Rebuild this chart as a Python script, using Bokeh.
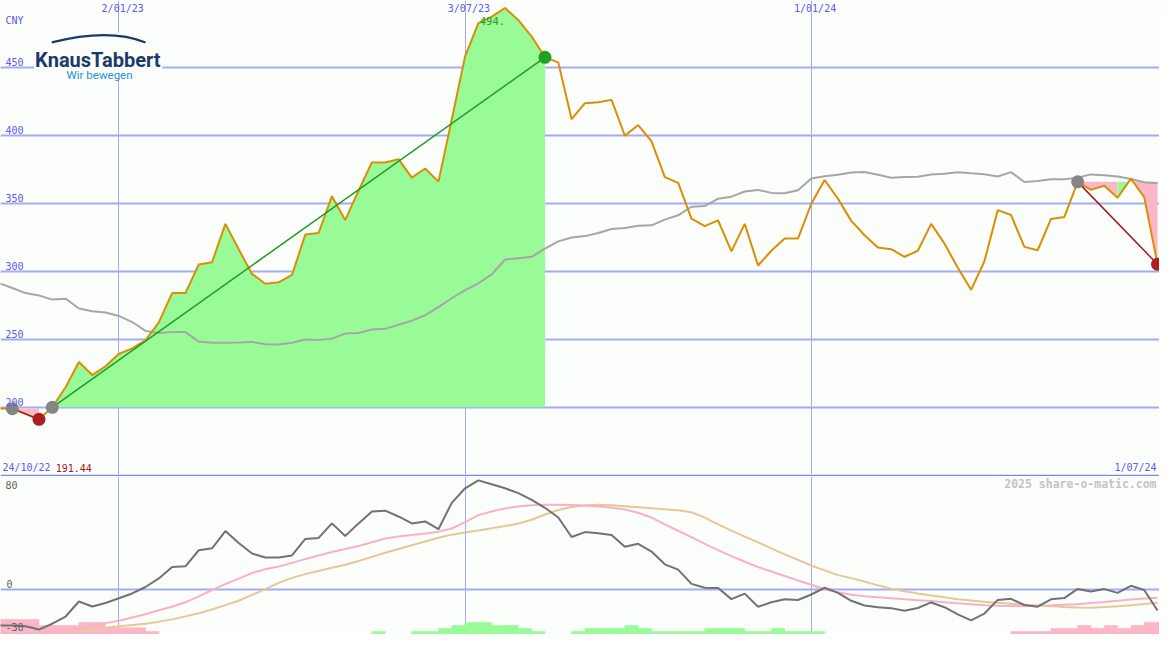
import pandas as pd
from bokeh.plotting import figure
from bokeh.layouts import column
from bokeh.models import Range1d, FixedTicker
from bokeh.core.properties import value
from bokeh.embed import file_html
from bokeh.resources import INLINE

# ---------------- data ----------------
week_start = "2022-10-31"
week_end = "2024-07-01"

price = [199.5, 199.3, 195.5, 191.44, 200.3, 215.0, 233.6, 224.0, 230.5, 239.6,
         243.6, 249.6, 262.7, 284.3, 284.3, 305.3, 307.0, 335.2, 316.5, 298.4,
         291.2, 292.2, 297.6, 327.3, 328.5, 355.6, 338.0, 359.6, 380.4, 380.4,
         382.8, 369.2, 375.9, 366.3, 412.0, 458.4, 482.8, 487.6, 494.0, 485.0,
         473.0, 457.7, 454.0, 412.2, 424.0, 424.7, 426.4, 400.0, 407.9, 395.9,
         369.6, 365.3, 339.0, 333.5, 337.8, 315.0, 335.2, 304.6, 315.4, 324.4,
         324.4, 350.0, 367.5, 353.7, 337.4, 326.8, 317.8, 316.6, 311.0, 315.4,
         335.2, 320.7, 303.0, 286.7, 307.7, 345.3, 341.7, 318.3, 315.8, 338.8,
         340.2, 366.1, 360.2, 363.3, 354.4, 368.5, 354.9, 305.5]

moving_avg = [291.6, 288.0, 284.3, 282.6, 279.5, 280.2, 273.0, 271.0, 270.0, 267.5,
              263.0, 256.5, 255.0, 255.6, 255.6, 248.6, 247.7, 247.8, 248.0, 248.4,
              246.6, 246.5, 247.8, 250.2, 249.8, 250.8, 254.5, 254.9, 257.5, 258.0,
              261.0, 264.0, 268.0, 274.0, 280.5, 286.5, 291.5, 298.0, 309.0, 310.0,
              311.0, 317.0, 322.3, 325.2, 326.2, 328.5, 331.4, 332.2, 333.9, 334.1,
              338.3, 341.5, 347.8, 348.3, 353.7, 355.2, 359.0, 360.2, 358.0, 357.7,
              360.0, 368.5, 370.3, 371.4, 373.0, 373.4, 371.4, 369.2, 369.7, 369.9,
              371.5, 372.1, 373.2, 372.4, 371.7, 370.0, 373.3, 366.0, 366.7, 368.0,
              368.0, 369.2, 371.6, 371.0, 370.0, 368.2, 365.8, 365.0]

oscillator = [-24.0, -24.0, -24.5, -26.7, -22.8, -18.0, -8.0, -11.3, -9.0, -5.8,
              -2.6, 1.7, 7.4, 15.0, 15.5, 26.2, 27.5, 39.0, 31.0, 24.0,
              21.4, 21.4, 22.7, 33.7, 34.4, 44.1, 35.7, 44.1, 52.0, 52.6,
              48.7, 44.1, 45.4, 40.2, 57.8, 67.5, 72.8, 70.2, 67.5, 64.3,
              59.8, 54.5, 48.0, 35.0, 38.3, 37.6, 36.3, 28.5, 30.5, 25.3,
              16.8, 13.3, 3.8, 1.2, 1.0, -6.4, -2.7, -11.5, -8.5, -6.5,
              -7.0, -3.3, 1.2, -2.2, -7.5, -10.6, -11.8, -12.4, -14.1, -12.3,
              -8.6, -11.8, -16.5, -20.5, -16.0, -6.9, -6.2, -10.3, -11.4, -6.5,
              -5.7, 0.4, -1.3, 0.3, -2.2, 2.5, -0.3, -14.0]

signal_fast = [-30.0, -30.0, -29.5, -29.0, -28.0, -27.0, -25.5, -24.0, -22.4, -20.8,
               -18.6, -16.5, -13.8, -11.5, -8.5, -4.5, -0.3, 3.6, 7.3, 11.0,
               13.5, 15.3, 17.8, 20.3, 22.7, 25.0, 27.0, 29.0, 31.5, 34.0,
               35.3, 36.3, 37.3, 38.6, 40.7, 45.0, 49.6, 52.0, 54.0, 55.3,
               56.2, 56.5, 56.5, 56.4, 56.0, 55.4, 54.5, 53.3, 51.2, 48.0,
               43.5, 39.2, 35.0, 30.5, 26.3, 22.3, 18.5, 15.0, 12.0, 9.0,
               6.0, 3.2, 0.2, -1.8, -3.5, -4.5, -5.2, -5.8, -6.5, -7.1,
               -7.7, -8.5, -9.2, -9.8, -10.4, -10.8, -11.0, -11.1, -10.6, -10.4,
               -10.1, -9.8, -9.0, -8.3, -7.5, -6.6, -5.9, -5.5]

signal_slow = [-31.0, -30.3, -29.5, -28.8, -28.1, -27.4, -26.7, -26.0, -25.4, -24.5,
               -23.7, -22.8, -21.4, -19.9, -17.9, -15.8, -13.3, -10.4, -7.5, -3.6,
               0.3, 4.4, 7.8, 10.3, 12.4, 14.5, 16.5, 19.0, 21.8, 24.5,
               27.0, 29.5, 32.0, 34.5, 36.6, 38.0, 39.4, 40.8, 42.3, 44.0,
               46.5, 50.0, 53.0, 55.0, 56.1, 56.5, 56.2, 55.6, 54.9, 54.2,
               53.6, 52.8, 51.5, 48.0, 43.5, 39.3, 35.3, 31.5, 27.5, 23.5,
               19.8, 16.0, 12.8, 9.6, 7.6, 5.3, 2.8, 0.5, -1.2, -2.6,
               -3.9, -5.2, -6.4, -7.3, -8.2, -8.8, -9.5, -10.2, -10.7, -11.1,
               -11.6, -12.0, -12.1, -11.7, -11.1, -10.4, -9.6, -8.8]

histogram = [-10, -10, -10, -6, -6, -6, -8, -8, -4.5, -4.5,
             -4.5, -2, 0, 0, 0, 0, 0, 0, 0, 0,
             0, 0, 0, 0, 0, 0, 0, 0, 2, 0,
             0, 2, 2, 4, 6, 8, 8, 6, 6, 4,
             2, 0, 0, 2, 4, 4, 4, 6, 4, 2,
             2, 2, 2, 4, 4, 4, 2, 2, 4, 2,
             2, 2, 0, 0, 0, 0, 0, 0, 0, 0,
             0, 0, 0, 0, 0, 0, -2, -2, -2, -4,
             -4, -6, -4, -6, -4, -6, -8, -8]

# trend periods (start index, end index) into the weekly series
periods = [(1, 3), (4, 41), (81, 87)]

main_ticks = [200, 250, 300, 350, 400, 450]
date_ticks = ["2023-01-02", "2023-07-03", "2024-01-01"]
date_tick_labels = ["2/01/23", "3/07/23", "1/01/24"]
lower_tick_labels = ["80", "0", "-30"]
currency = "CNY"
start_label = "24/10/22"
low_label = "191.44"
end_label = "1/07/24"
credit = "2025 share-o-matic.com"
brand = "KnausTabbert"
slogan = "Wir bewegen"

# ---------------- helpers ----------------
DAY = 86400000.0


def ms(d):
    return pd.Timestamp(d).value / 1e6


dates = pd.date_range(week_start, week_end, freq="7D")
xs = [ms(d) for d in dates]

# reference layout geometry (pixel -> data) used only for placing decorations/labels
REF_MS = ms("2023-01-02")
PX_PER_DAY = 13.5 / 7.0


def X(px):
    return REF_MS + (px - 120.0) / PX_PER_DAY * DAY


def Y(py):
    return 450.0 - (py - 69.0) / 1.394


def YL(py):
    return (603.9 - py) / 1.538


BG = "#fcfefc"
GRID = "#a3abf3"
BLUE = "#5a5af0"
ORANGE = "#d98e04"
GREEN_FILL = "#98fb98"
PINK_FILL = "#fbb6c8"
MONO = value("DejaVu Sans Mono")

W = 1159
H_MAIN = 476
H_LOW = 158

x_range = Range1d(X(0), X(1175))

# ---------------- main panel ----------------
p = figure(width=W, height=H_MAIN, x_axis_type="datetime",
           x_range=x_range, y_range=Range1d(Y(486), Y(0)),
           x_axis_location=None, y_axis_location=None,
           output_backend="svg", toolbar_location=None,
           min_border=0, min_border_bottom=2,
           border_fill_color="#7c86ee", background_fill_color=BG,
           outline_line_color=None)
p.ygrid.ticker = FixedTicker(ticks=main_ticks)
p.ygrid.grid_line_color = GRID
p.ygrid.grid_line_width = 2
p.xgrid.ticker = FixedTicker(ticks=[ms(d) for d in date_ticks])
p.xgrid.grid_line_color = GRID
p.xgrid.grid_line_width = 1

# fills between period start level and price, merged into runs of one colour
fx, fy, fc = [], [], []
for i0, i1 in periods:
    base = price[i0]

    def col(k):
        return GREEN_FILL if price[k] >= base else PINK_FILL

    i = i0
    while i < i1:
        c = col(i + 1)
        j = i + 1
        while j < i1 and col(j + 1) == c:
            j += 1
        fx.append([xs[i]] + xs[i:j + 1] + [xs[j]])
        fy.append([base] + price[i:j + 1] + [base])
        fc.append(c)
        i = j
p.patches(fx, fy, fill_color=fc, line_color=None)

p.line(xs, moving_avg, line_color="#a6a6a6", line_width=2)
p.line(xs, price, line_color=ORANGE, line_width=2)

# trend segments and markers
sx0 = [xs[a] for a, b in periods]
sy0 = [price[a] for a, b in periods]
sx1 = [xs[b] for a, b in periods]
sy1 = [price[b] for a, b in periods]
up = [price[b] >= price[a] for a, b in periods]
p.segment(sx0, sy0, sx1, sy1,
          line_color=["#1f9a1f" if u else "#a01c1c" for u in up], line_width=1.5)
p.scatter(sx0, sy0, size=13, fill_color="#858585", line_color=None)
p.scatter(sx1, sy1, size=13,
          fill_color=["#23a023" if u else "#ad1f1f" for u in up], line_color=None)

# peak label
imax = price.index(max(price))
p.text([xs[imax]], [Y(21.5)], text=[f"{max(price):.0f}."], text_font=MONO,
       text_font_size="10.5px", text_color="#23a023", text_align="right",
       text_baseline="middle")

# axis labels
p.text([X(5)] * len(main_ticks), [t + 5.5 / 1.394 for t in main_ticks],
       text=[str(t) for t in main_ticks], text_font=MONO, text_font_size="10px",
       text_color=BLUE, text_baseline="middle")
p.text([X(5)], [Y(21)], text=[currency], text_font=MONO, text_font_size="10px",
       text_color=BLUE, text_baseline="middle")
p.text([ms(d) + 2 * DAY for d in date_ticks], [Y(8.5)] * len(date_ticks),
       text=date_tick_labels, text_font=MONO, text_font_size="10px",
       text_color=BLUE, text_align="center", text_baseline="middle")
p.text([X(2)], [Y(479)], text=[start_label], text_font=MONO, text_font_size="10px",
       text_color=BLUE, text_baseline="middle")
p.text([X(56)], [Y(479)], text=[low_label], text_font=MONO, text_font_size="10px",
       text_color="#a01c1c", text_baseline="middle")
p.text([X(1172)], [Y(479)], text=[end_label], text_font=MONO, text_font_size="10px",
       text_color=BLUE, text_align="right", text_baseline="middle")

# logo
p.quad(left=[X(34)], right=[X(164)], top=[Y(33)], bottom=[Y(80)],
       fill_color=BG, line_color=None)
p.quadratic(x0=[X(52)], y0=[Y(43)], x1=[X(147)], y1=[Y(43)],
            cx=[X(110)], cy=[Y(28)], line_color="#1b3a6b", line_width=2.2)
p.text([X(35)], [Y(61)], text=[brand], text_font=value("Roboto"),
       text_font_style="bold", text_font_size="20px", text_color="#1b3a6b",
       text_baseline="alphabetic")
p.text([X(67)], [Y(76)], text=[slogan], text_font=value("Roboto"),
       text_font_size="11.5px", text_color="#2b8fd6", text_baseline="alphabetic")

# ---------------- lower panel ----------------
q = figure(width=W, height=H_LOW, x_axis_type="datetime",
           x_range=x_range, y_range=Range1d(YL(650), YL(488)),
           x_axis_location=None, y_axis_location=None,
           output_backend="svg", toolbar_location=None,
           min_border=0, background_fill_color=BG, border_fill_color=BG,
           outline_line_color=None)
q.ygrid.ticker = FixedTicker(ticks=[0])
q.ygrid.grid_line_color = GRID
q.ygrid.grid_line_width = 2
q.xgrid.ticker = FixedTicker(ticks=[ms(d) for d in date_ticks])
q.xgrid.grid_line_color = GRID
q.xgrid.grid_line_width = 1

lo = q.y_range.start
bl, br, bt, bc = [], [], [], []
for i, h in enumerate(histogram):
    if h != 0:
        bl.append(xs[i])
        br.append(xs[i] + 7 * DAY)
        bt.append(lo + abs(h))
        bc.append(GREEN_FILL if h > 0 else PINK_FILL)
q.quad(left=bl, right=br, bottom=[lo] * len(bl), top=bt, fill_color=bc,
       line_color=bc, line_width=0.6)

q.line(xs, signal_slow, line_color="#e6c898", line_width=2)
q.line(xs, signal_fast, line_color="#fbb0c8", line_width=2)
q.line(xs, oscillator, line_color="#727272", line_width=2)

q.text([X(5), X(6), X(5)], [YL(496.5), YL(598.5), YL(642)], text=lower_tick_labels,
       text_font=MONO, text_font_size="10px", text_color="#606060",
       text_baseline="middle")
q.text([X(1172)], [YL(496)], text=[credit], text_font=MONO, text_font_style="bold",
       text_font_size="11.5px", text_color="#c4c4c4", text_align="right",
       text_baseline="middle")

layout = column(p, q, spacing=0)
open("out.html", "w").write(file_html(layout, INLINE))
